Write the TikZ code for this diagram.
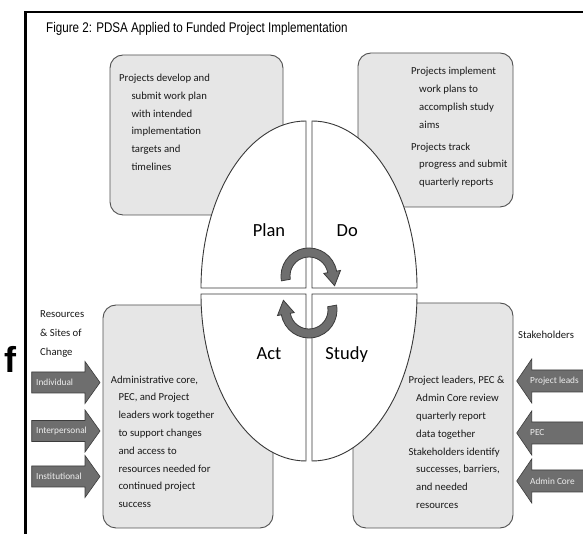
\documentclass[tikz,border=0pt]{standalone}
\usepackage{fontspec}
\setmainfont{Carlito}
\newfontfamily\titlefont[FakeStretch=0.83]{Liberation Sans}
\newfontfamily\ffont{Liberation Sans}
\definecolor{boxfill}{HTML}{E6E6E6}
\definecolor{boxline}{HTML}{505050}
\definecolor{quadline}{HTML}{383838}
\definecolor{arrfill}{HTML}{6E6E6E}
\definecolor{arrline}{HTML}{3C3C3C}
\definecolor{arrtext}{HTML}{EEEEEE}
\tikzset{
  infobox/.style={draw=boxline, line width=0.9pt, fill=boxfill, rounded corners=13pt},
  quad/.style={draw=quadline, line width=0.9pt, fill=white},
  boxtext/.style={inner sep=0pt, anchor=north west, align=left, font=\fontsize{10.7}{17.8}\selectfont, text=black!90},
  quadlabel/.style={inner sep=0pt, anchor=base, font=\fontsize{18.5}{20}\selectfont},
  blockarrow/.style={draw=arrline, line width=0.6pt, fill=arrfill},
  arrlabel/.style={inner sep=0pt, anchor=west, text=arrtext, font=\fontsize{9.3}{11}\selectfont},
  cyclearrow/.style={draw=arrline, line width=0.8pt, fill=arrfill}
}
\begin{document}
\begin{tikzpicture}[x=1pt,y=1pt]
\useasboundingbox (0,0) rectangle (583,534);
\clip (0,0) rectangle (583,534);
\fill[white] (0,0) rectangle (583,534);
% frame
\draw[line width=2.6pt] (25.3,-5) -- (25.3,522) -- (590,522);
% title
\node[inner sep=0pt, anchor=base west] (title) at (46,501)
  {\titlefont\fontsize{14}{16}\selectfont Figure 2: PDSA Applied to Funded Project Implementation};
% f
\node[inner sep=0pt] (f) at (10,175) {\ffont\bfseries\fontsize{36}{40}\selectfont f};
% boxes
\draw[infobox] (110,479) rectangle (283,319);
\draw[infobox] (358,481) rectangle (513,327);
\draw[infobox] (103,229) rectangle (273,6);
\draw[infobox] (353,231) rectangle (513,6);
% quadrants
\draw[quad] (306,246) -- (201,246) arc[start angle=180, end angle=90, x radius=105pt, y radius=167pt] -- cycle;
\draw[quad] (312,246) -- (312,413) arc[start angle=90, end angle=0, x radius=105pt, y radius=167pt] -- cycle;
\draw[quad] (306,240) -- (201,240) arc[start angle=180, end angle=270, x radius=105pt, y radius=167pt] -- cycle;
\draw[quad] (312,240) -- (417,240) arc[start angle=0, end angle=-90, x radius=105pt, y radius=167pt] -- cycle;
\node[quadlabel] (plan) at (269,297.3) {Plan};
\node[quadlabel] (do) at (347.3,297.3) {Do};
\node[quadlabel] (act) at (269,174.7) {Act};
\node[quadlabel] (study) at (346.7,174.7) {Study};
% cycle arrows
\draw[cyclearrow] ([shift={(309,258)}]190:28pt) arc[start angle=190, end angle=10, radius=28pt]
  -- ([shift={(309,258)}]10:32pt) -- (334.6,248.3) -- ([shift={(309,258)}]10:15pt)
  -- ([shift={(309,258)}]10:19pt) arc[start angle=10, end angle=190, radius=19pt] -- cycle;
\begin{scope}[rotate around={180:(309,241)}]
\draw[cyclearrow] ([shift={(309,258)}]190:28pt) arc[start angle=190, end angle=10, radius=28pt]
  -- ([shift={(309,258)}]10:32pt) -- (334.6,248.3) -- ([shift={(309,258)}]10:15pt)
  -- ([shift={(309,258)}]10:19pt) arc[start angle=10, end angle=190, radius=19pt] -- cycle;
\end{scope}
% box texts
\node[boxtext] (tltext) at (119,460.2) {Projects develop and\\
\hspace*{12.3pt}submit work plan\\
\hspace*{12.3pt}with intended\\
\hspace*{12.3pt}implementation\\
\hspace*{12.3pt}targets and\\
\hspace*{12.3pt}timelines};
\node[boxtext] (trtext) at (411,466.8) {Projects implement\\
\hspace*{8pt}work plans to\\
\hspace*{8pt}accomplish study\\
\hspace*{8pt}aims\\[4pt]
Projects track\\
\hspace*{8pt}progress and submit\\
\hspace*{8pt}quarterly reports};
\node[boxtext] (bltext) at (110.7,158.5) {Administrative core,\\
\hspace*{7.6pt}PEC, and Project\\
\hspace*{7.6pt}leaders work together\\
\hspace*{7.6pt}to support changes\\
\hspace*{7.6pt}and access to\\
\hspace*{7.6pt}resources needed for\\
\hspace*{7.6pt}continued project\\
\hspace*{7.6pt}success};
\node[boxtext] (brtext) at (408.3,157.8) {Project leaders, PEC \&\\
\hspace*{7.7pt}Admin Core review\\
\hspace*{7.7pt}quarterly report\\
\hspace*{7.7pt}data together\\
Stakeholders identify\\
\hspace*{7.7pt}successes, barriers,\\
\hspace*{7.7pt}and needed\\
\hspace*{7.7pt}resources};
% side labels
\node[boxtext, font=\fontsize{10.7}{19}\selectfont] (res) at (40,223.5) {Resources\\\& Sites of\\Change};
\node[inner sep=0pt, anchor=west, font=\fontsize{10.7}{13}\selectfont, text=black!90] (stake) at (518,199) {Stakeholders};
% left arrows
\foreach \yc/\nm/\lab in {151.5/ind/Individual, 103/inter/Interpersonal, 57.5/inst/Institutional}{
  \draw[blockarrow] (31.7,\yc-10.5) -- (85,\yc-10.5) -- (85,\yc-21) -- (100,\yc) -- (85,\yc+21) -- (85,\yc+10.5) -- (31.7,\yc+10.5) -- cycle;
  \node[arrlabel] (\nm) at (36,\yc) {\lab};
}
% right arrows
\foreach \yc/\nm/\lab in {153/pl/Project leads, 101/pec/PEC, 53/adm/Admin Core}{
  \draw[blockarrow] (590,\yc-11) -- (531.7,\yc-11) -- (531.7,\yc-22) -- (516.7,\yc) -- (531.7,\yc+22) -- (531.7,\yc+11) -- (590,\yc+11) -- cycle;
  \node[arrlabel] (\nm) at (530,\yc) {\lab};
}
\end{tikzpicture}
\end{document}
